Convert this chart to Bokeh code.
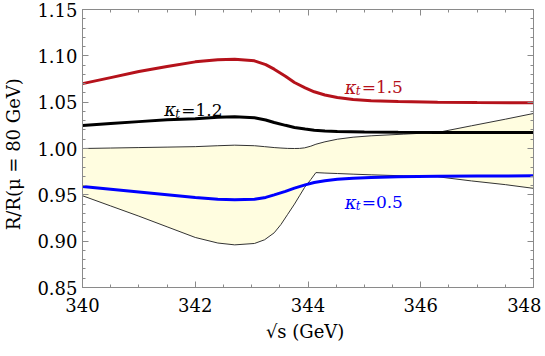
from bokeh.plotting import figure
from bokeh.models import Range1d, LinearAxis, FixedTicker, PrintfTickFormatter, CustomJSTickFormatter
from bokeh.core.properties import value
from bokeh.embed import file_html
from bokeh.resources import INLINE

# ---- data ----
x_red = [340, 340.5, 341, 341.5, 342, 342.4, 342.7, 343.05, 343.25, 343.4, 343.6, 343.76, 343.95,
         344.11, 344.3, 344.52, 344.8, 345.12, 345.6, 346.3, 347, 348]
y_red = [1.070, 1.0765, 1.083, 1.0885, 1.0935, 1.0958, 1.0964, 1.0946, 1.0905, 1.0856, 1.0780,
         1.0712, 1.0655, 1.0612, 1.0578, 1.055, 1.0528, 1.0515, 1.0507, 1.050, 1.0496, 1.0493]

x_black = [340, 340.5, 341, 341.5, 342, 342.4, 342.7, 343.05, 343.25, 343.4, 343.6, 343.76,
           343.95, 344.11, 344.3, 344.52, 345, 345.6, 346.3, 347, 348]
y_black = [1.0248, 1.027, 1.029, 1.031, 1.0322, 1.0336, 1.0342, 1.0332, 1.0307, 1.0280, 1.0250,
           1.0227, 1.0210, 1.0198, 1.0190, 1.0184, 1.0178, 1.0175, 1.0173, 1.0173, 1.0173]

x_blue = [340, 340.5, 341, 341.5, 342, 342.4, 342.7, 343.05, 343.25, 343.4, 343.6, 343.76,
          343.95, 344.11, 344.3, 344.52, 344.8, 345.12, 345.6, 346.3, 347, 348]
y_blue = [0.959, 0.956, 0.953, 0.950, 0.947, 0.9452, 0.9446, 0.9453, 0.9472, 0.950, 0.9538,
          0.9572, 0.9607, 0.9633, 0.9653, 0.9669, 0.9680, 0.9687, 0.9694, 0.970, 0.9703, 0.9705]

x_band = [340, 340.5, 341, 341.5, 342, 342.4, 342.7, 343.05, 343.23, 343.4, 343.52, 343.64, 343.76,
          343.85, 343.94, 344.05, 344.14, 344.3, 344.52, 344.8, 345.12, 345.7, 346.3, 346.9,
          347.5, 348]
band_upper = [1.000, 1.0005, 1.001, 1.0015, 1.002, 1.0030, 1.0036, 1.003, 1.002, 1.001, 1.0005,
              1.0001, 1.000, 1.0001, 1.0007, 1.0025, 1.0046, 1.0072, 1.010, 1.0122, 1.0137,
              1.0155, 1.0173, 1.0245, 1.0316, 1.0378]
band_lower = [0.949, 0.938, 0.927, 0.9155, 0.904, 0.898, 0.896, 0.8975, 0.9015, 0.909, 0.918,
              0.929, 0.940, 0.949, 0.958, 0.9665, 0.974, 0.9735, 0.973, 0.9723, 0.9716, 0.9705,
              0.9695, 0.965, 0.961, 0.957]

label_values = ["=1.5", "=1.2", "=0.5"]
label_x = [344.65, 341.45, 344.65]
label_y = [1.066, 1.042, 0.942]
label_colors = ["#b5121b", "#000000", "#0000ff"]

x_ticks = [340, 342, 344, 346, 348]
y_ticks = [0.85, 0.90, 0.95, 1.00, 1.05, 1.10, 1.15]

FONT = "DejaVu Serif"
FRAME = "#8a8a8a"

p = figure(output_backend="svg", toolbar_location=None,
           frame_width=451, frame_height=278,
           min_border_left=70, min_border_right=8, min_border_top=9, min_border_bottom=50,
           x_range=Range1d(340, 348), y_range=Range1d(0.85, 1.15),
           x_axis_type=None, y_axis_type=None)
p.grid.visible = False
p.outline_line_color = FRAME
p.background_fill_color = "white"

# band
p.varea(x=x_band, y1=band_lower, y2=band_upper, fill_color="#fffde0")
p.line(x_band, band_upper, line_color="#333333", line_width=1)
p.line(x_band, band_lower, line_color="#333333", line_width=1)

# curves
p.line(x_red, y_red, line_color="#b5121b", line_width=3)
p.line(x_black, y_black, line_color="#000000", line_width=3)
p.line(x_blue, y_blue, line_color="#0000ff", line_width=3)

# labels: kappa, subscript t, "=value"
p.text(x=label_x, y=label_y, text=["κ"] * 3, text_color=label_colors,
       text_font=value(FONT), text_font_style="italic", text_font_size="18px",
       text_baseline="alphabetic")
p.text(x=label_x, y=label_y, text=["t"] * 3, text_color=label_colors,
       text_font=value(FONT), text_font_style="italic", text_font_size="12px",
       text_baseline="alphabetic", x_offset=11, y_offset=4)
p.text(x=label_x, y=label_y, text=label_values, text_color=label_colors,
       text_font=value(FONT), text_font_size="17px",
       text_baseline="alphabetic", x_offset=17)

x_minor = [340 + 0.5 * i for i in range(17)]
y_minor = [round(0.85 + 0.01 * i, 2) for i in range(31)]


def style(ax):
    ax.axis_line_color = FRAME
    ax.major_tick_line_color = FRAME
    ax.minor_tick_line_color = FRAME
    ax.major_tick_in = 6
    ax.major_tick_out = 0
    ax.minor_tick_in = 3
    ax.minor_tick_out = 0
    ax.major_label_text_font = FONT
    ax.major_label_text_font_size = "18px"
    ax.major_label_text_color = "black"
    ax.axis_label_text_font = FONT
    ax.axis_label_text_font_size = "18px"
    ax.axis_label_text_font_style = "normal"
    ax.axis_label_text_color = "black"


xb = LinearAxis(ticker=FixedTicker(ticks=x_ticks, minor_ticks=x_minor),
                formatter=PrintfTickFormatter(format="%d"), axis_label="√s  (GeV)")
style(xb)
xb.major_label_standoff = 10
xb.axis_label_standoff = 6
p.add_layout(xb, "below")

yl = LinearAxis(ticker=FixedTicker(ticks=y_ticks, minor_ticks=y_minor),
                formatter=PrintfTickFormatter(format="%.2f"), axis_label="R/R(μ  =  80 GeV)")
style(yl)
yl.major_label_standoff = 5
yl.axis_label_standoff = 10
p.add_layout(yl, "left")

blank = CustomJSTickFormatter(code="return ''")
xt = LinearAxis(ticker=FixedTicker(ticks=x_ticks, minor_ticks=x_minor), formatter=blank)
style(xt)
xt.major_label_standoff = 0
p.add_layout(xt, "above")

yr = LinearAxis(ticker=FixedTicker(ticks=y_ticks, minor_ticks=y_minor), formatter=blank)
style(yr)
yr.major_label_standoff = 0
p.add_layout(yr, "right")

open("out.html", "w").write(file_html(p, INLINE))
